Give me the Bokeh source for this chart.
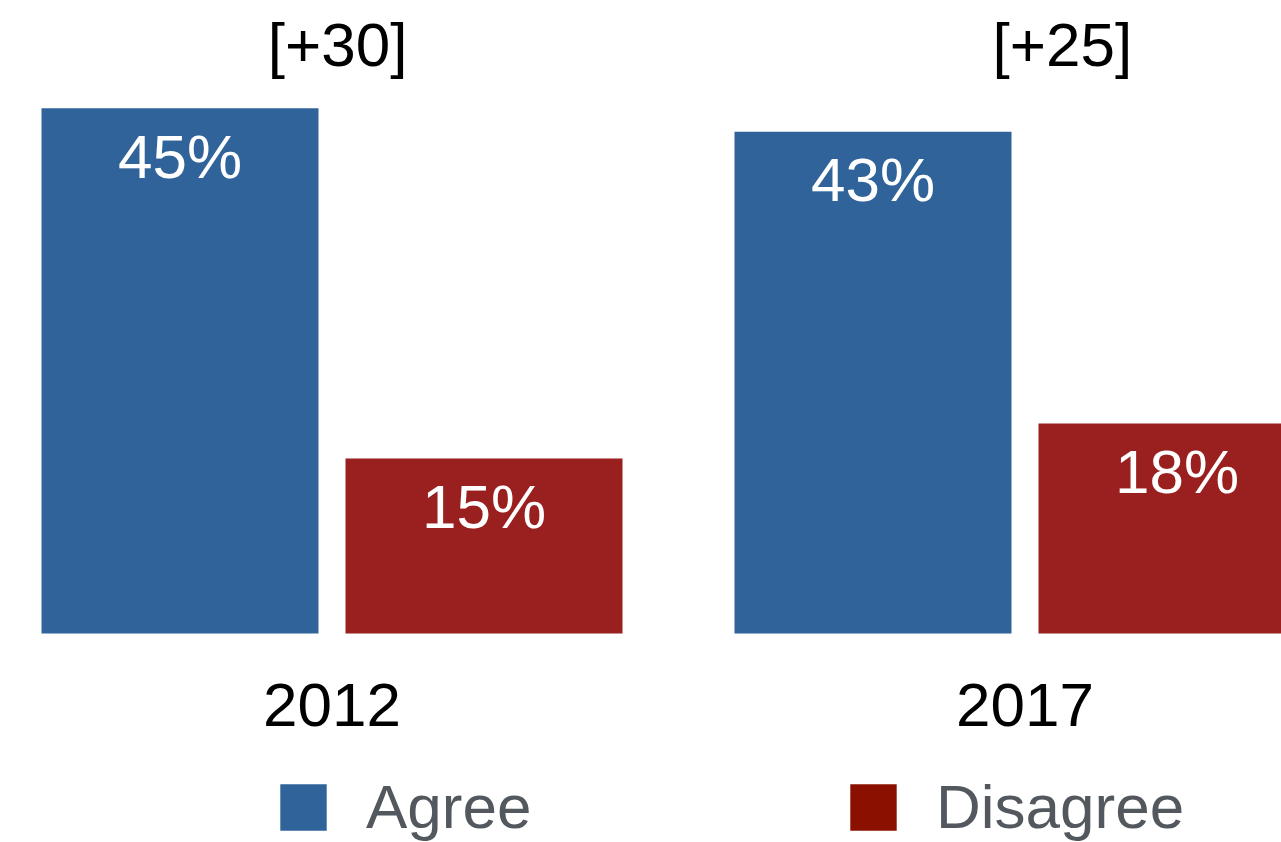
from bokeh.plotting import figure
from bokeh.models import Range1d, ColumnDataSource, Legend, LegendItem
from bokeh.core.properties import value
from bokeh.embed import file_html
from bokeh.resources import INLINE

# ---- data ----
years = ["2012", "2017"]
agree = [45, 43]
disagree = [15, 18]
gap_labels = ["[+30]", "[+25]"]
series = ["Agree", "Disagree"]

# ---- style / layout ----
BLUE = "#2F6399"
RED = "#9A1F1F"
LEG_BLUE = "#2F6399"
LEG_RED = "#8B1000"
LEG_TEXT = "#53585F"
FONT = "Liberation Sans"
FS = "62px"
W, H = 1281, 842
GROUP_PX = 693.0
BAR_PX = 277.0
GAP_PX = 27.0
BASE_ROW = 633.0
PX_PER_UNIT = 11.67
G0_PX = 331.5
GAP_LABEL_SHIFT = [0.008, 0.054]

x_start = -G0_PX / GROUP_PX
x_end = (W - G0_PX) / GROUP_PX
y_end = BASE_ROW / PX_PER_UNIT
y_start = -(H - BASE_ROW) / PX_PER_UNIT
half = (BAR_PX + GAP_PX) / 2 / GROUP_PX
bw = BAR_PX / GROUP_PX

idx = list(range(len(years)))
top_val = max(agree + disagree)
src = ColumnDataSource(dict(
    g=idx,
    year=years,
    agree=agree,
    disagree=disagree,
    xa=[i - half for i in idx],
    xd=[i + half for i in idx],
    la=[f"{v}%" for v in agree],
    ld=[f"{v}%" for v in disagree],
    gap=gap_labels,
    gx=[i + s for i, s in zip(idx, GAP_LABEL_SHIFT)],
    gy=[top_val] * len(idx),
    zero=[0] * len(idx),
))

p = figure(width=W, height=H, x_range=Range1d(x_start, x_end),
           y_range=Range1d(y_start, y_end), output_backend="svg",
           toolbar_location=None, min_border=0, x_axis_type=None,
           y_axis_type=None, outline_line_color=None)
p.xgrid.grid_line_color = None
p.ygrid.grid_line_color = None
p.background_fill_color = "white"
p.border_fill_color = "white"

p.vbar(x="xa", top="agree", width=bw, source=src, fill_color=BLUE, line_color=None)
p.vbar(x="xd", top="disagree", width=bw, source=src, fill_color=RED, line_color=None)

common = dict(text_font=value(FONT), text_align="center", text_baseline="alphabetic",
              text_font_size=FS, source=src)
p.text(x="xa", y="agree", text="la", text_color="white", y_offset=48, **common)
p.text(x="xd", y="disagree", text="ld", text_color="white", y_offset=48, **common)
p.text(x="g", y="zero", text="year", text_color="black", y_offset=71, **common)
p.text(x="gx", y="gy", text="gap", text_color="black", y_offset=-64, **common)

# legend swatches: renderers whose single bar lies outside the visible range
ra = p.vbar(x=[x_start - 5], top=[0], width=0.1, fill_color=LEG_BLUE, line_color=None)
rd = p.vbar(x=[x_start - 5], top=[0], width=0.1, fill_color=LEG_RED, line_color=None)

legend = Legend(items=[LegendItem(label=series[0], renderers=[ra]),
                       LegendItem(label=series[1], renderers=[rd])],
                orientation="horizontal", location=(274, 0),
                glyph_width=58, glyph_height=58, label_standoff=34,
                label_width=478, spacing=0, padding=0, margin=0,
                border_line_color=None, background_fill_alpha=0,
                label_text_font=FONT, label_text_font_size=FS,
                label_text_color=LEG_TEXT)
p.add_layout(legend)

open("out.html", "w").write(file_html(p, INLINE))
